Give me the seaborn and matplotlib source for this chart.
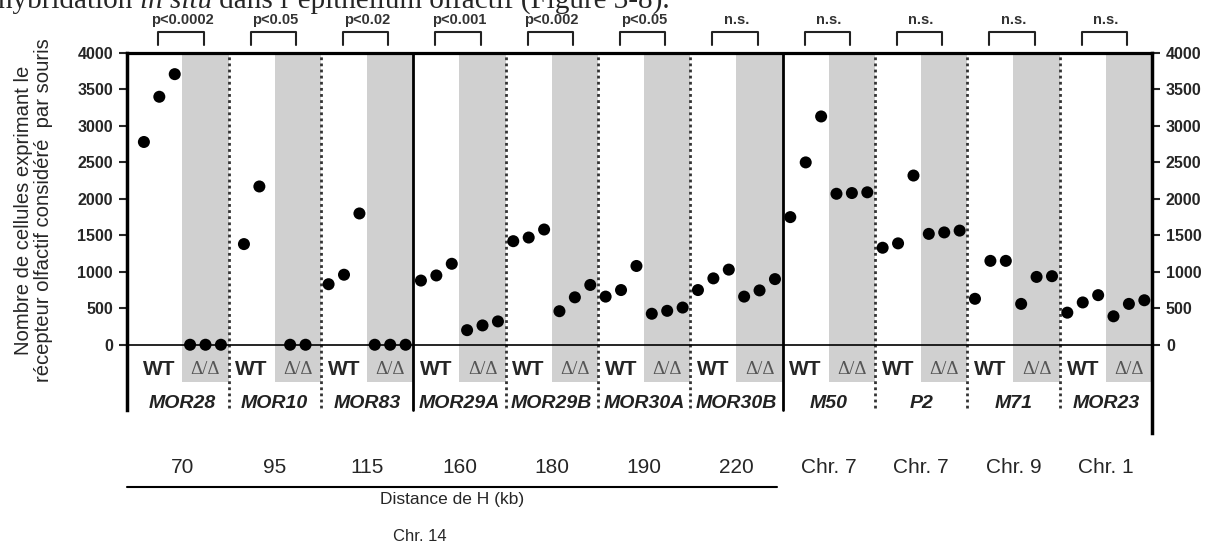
import pandas as pd
import seaborn as sns
import matplotlib.pyplot as plt

genes = ["MOR28", "MOR10", "MOR83", "MOR29A", "MOR29B", "MOR30A", "MOR30B",
         "M50", "P2", "M71", "MOR23"]
wt_counts = [[2780, 3400, 3710], [1380, 2170], [830, 960, 1800],
             [880, 950, 1110], [1420, 1470, 1580], [660, 750, 1080],
             [750, 910, 1030], [1750, 2500, 3130], [1330, 1390, 2320],
             [630, 1150, 1150], [440, 580, 680]]
ko_counts = [[0, 0, 0], [0, 0], [0, 0, 0],
             [200, 265, 320], [460, 650, 820], [425, 465, 510],
             [660, 745, 900], [2070, 2080, 2090], [1520, 1540, 1565],
             [560, 930, 940], [390, 560, 610]]
p_labels = ["p<0.0002", "p<0.05", "p<0.02", "p<0.001", "p<0.002", "p<0.05",
            "n.s.", "n.s.", "n.s.", "n.s.", "n.s."]
locations = ["70", "95", "115", "160", "180", "190", "220",
             "Chr. 7", "Chr. 7", "Chr. 9", "Chr. 1"]
yticks = list(range(0, 4001, 500))

sns.set_theme(style="white")
plt.rcParams['font.family'] = ['Liberation Sans', 'DejaVu Sans']

# one row per mouse, x = gene slot + genotype half + small spread
rows = []
for g, gene in enumerate(genes):
    for geno, vals, centre in (("WT", wt_counts[g], 0.25), ("KO", ko_counts[g], 0.75)):
        n = len(vals)
        for j, v in enumerate(vals):
            rows.append({"gene": gene, "genotype": geno,
                         "x": g + centre + (j - (n - 1) / 2) * 0.167,
                         "count": v})
df = pd.DataFrame(rows)

fig = plt.figure(figsize=(12.1, 5.47), dpi=100)
ax = fig.add_axes([127 / 1210, 1 - 433 / 547, 1025 / 1210, 380 / 547])
ax.set_xlim(-0.1, 11)
ax.set_ylim(-1210, 4000)

# grey band behind the knock-out half of every gene
for g in range(len(genes)):
    ax.fill_between([g + 0.5, g + 1], -508, 4000, color="#d0d0d0", lw=0, zorder=0)

ax.axhline(0, color="black", lw=1.2, zorder=2)

sns.scatterplot(data=df, x="x", y="count", color="black", s=75, edgecolor="none",
                legend=False, ax=ax, zorder=3, clip_on=False)
ax.set_xlabel("")
ax.set_ylabel("")

# separators between genes
for b in range(1, len(genes)):
    if b in (3, 7):
        ax.plot([b, b], [-890, 4000], color="black", lw=2, clip_on=False, zorder=1)
    else:
        ax.plot([b, b], [-864, 4000], color="#333333", lw=2, ls=(0, (1, 1.2)),
                clip_on=False, zorder=1)

ax.spines["bottom"].set_visible(False)
ax.spines["top"].set_linewidth(2.3)
ax.spines["left"].set_linewidth(2.5)
ax.spines["right"].set_linewidth(2.5)
ax.spines["left"].set_bounds(-890, 4000)
for s in ("top", "left", "right"):
    ax.spines[s].set_color("black")

ax.set_xticks([])
ax.set_yticks(yticks)
ax.tick_params(axis="y", left=True, right=True, labelleft=True, labelright=True,
               direction="out", length=6, width=1.5, labelsize=11.5, pad=4)
for t in ax.yaxis.get_major_ticks():
    t.label1.set_fontweight("bold")
    t.label2.set_fontweight("bold")

for g, gene in enumerate(genes):
    ax.text(g + 0.25, -343, "WT", ha="center", va="center", fontsize=15,
            fontweight="bold", clip_on=False)
    ax.text(g + 0.75, -343, "\u0394/\u0394", ha="center", va="center", fontsize=13.5,
            family="Liberation Serif", color="#555555", clip_on=False)
    ax.text(g + 0.5, -810, gene, ha="center", va="center", fontsize=14,
            fontweight="bold", style="italic", color="#222222", clip_on=False)
    ax.text(g + 0.5, -1687, locations[g], ha="center", va="center", fontsize=15,
            clip_on=False)
    # significance bracket
    ax.plot([g + 0.24, g + 0.24, g + 0.73, g + 0.73], [4115, 4294, 4294, 4115],
            color="#222222", lw=1.5, clip_on=False)
    ax.text(g + 0.5, 4450, p_labels[g], ha="center", va="center", fontsize=10.5,
            fontweight="bold", color="#333333", clip_on=False)

ax.plot([-0.1, 6.94], [-1948, -1948], color="black", lw=1.5, clip_on=False)
ax.text(3.42, -2126, "Distance de H (kb)", ha="center", va="center", fontsize=12.5,
        clip_on=False)
ax.text(3.07, -2634, "Chr. 14", ha="center", va="center", fontsize=12, clip_on=False)

fig.text(33.5 / 1210, 1 - 210 / 547,
         "Nombre de cellules exprimant le\nr\u00e9cepteur olfactif consid\u00e9r\u00e9  par souris",
         rotation=90, ha="center", va="center", multialignment="center",
         fontsize=14.6, linespacing=1.1)

# page text cut off at the top of the scan
renderer = fig.canvas.get_renderer()
x0 = -2 / 1210
for part, st in (("hybridation ", "normal"), ("in situ", "italic"),
                 (" dans l\u2019\u00e9pith\u00e9lium olfactif (Figure 3-8).", "normal")):
    t = fig.text(x0, 1 - 8 / 547, part, family="Liberation Serif", style=st,
                 fontsize=21, va="baseline", ha="left")
    bb = t.get_window_extent(renderer)
    x0 = bb.x1 / fig.bbox.width

fig.savefig("out.png", dpi=100)
